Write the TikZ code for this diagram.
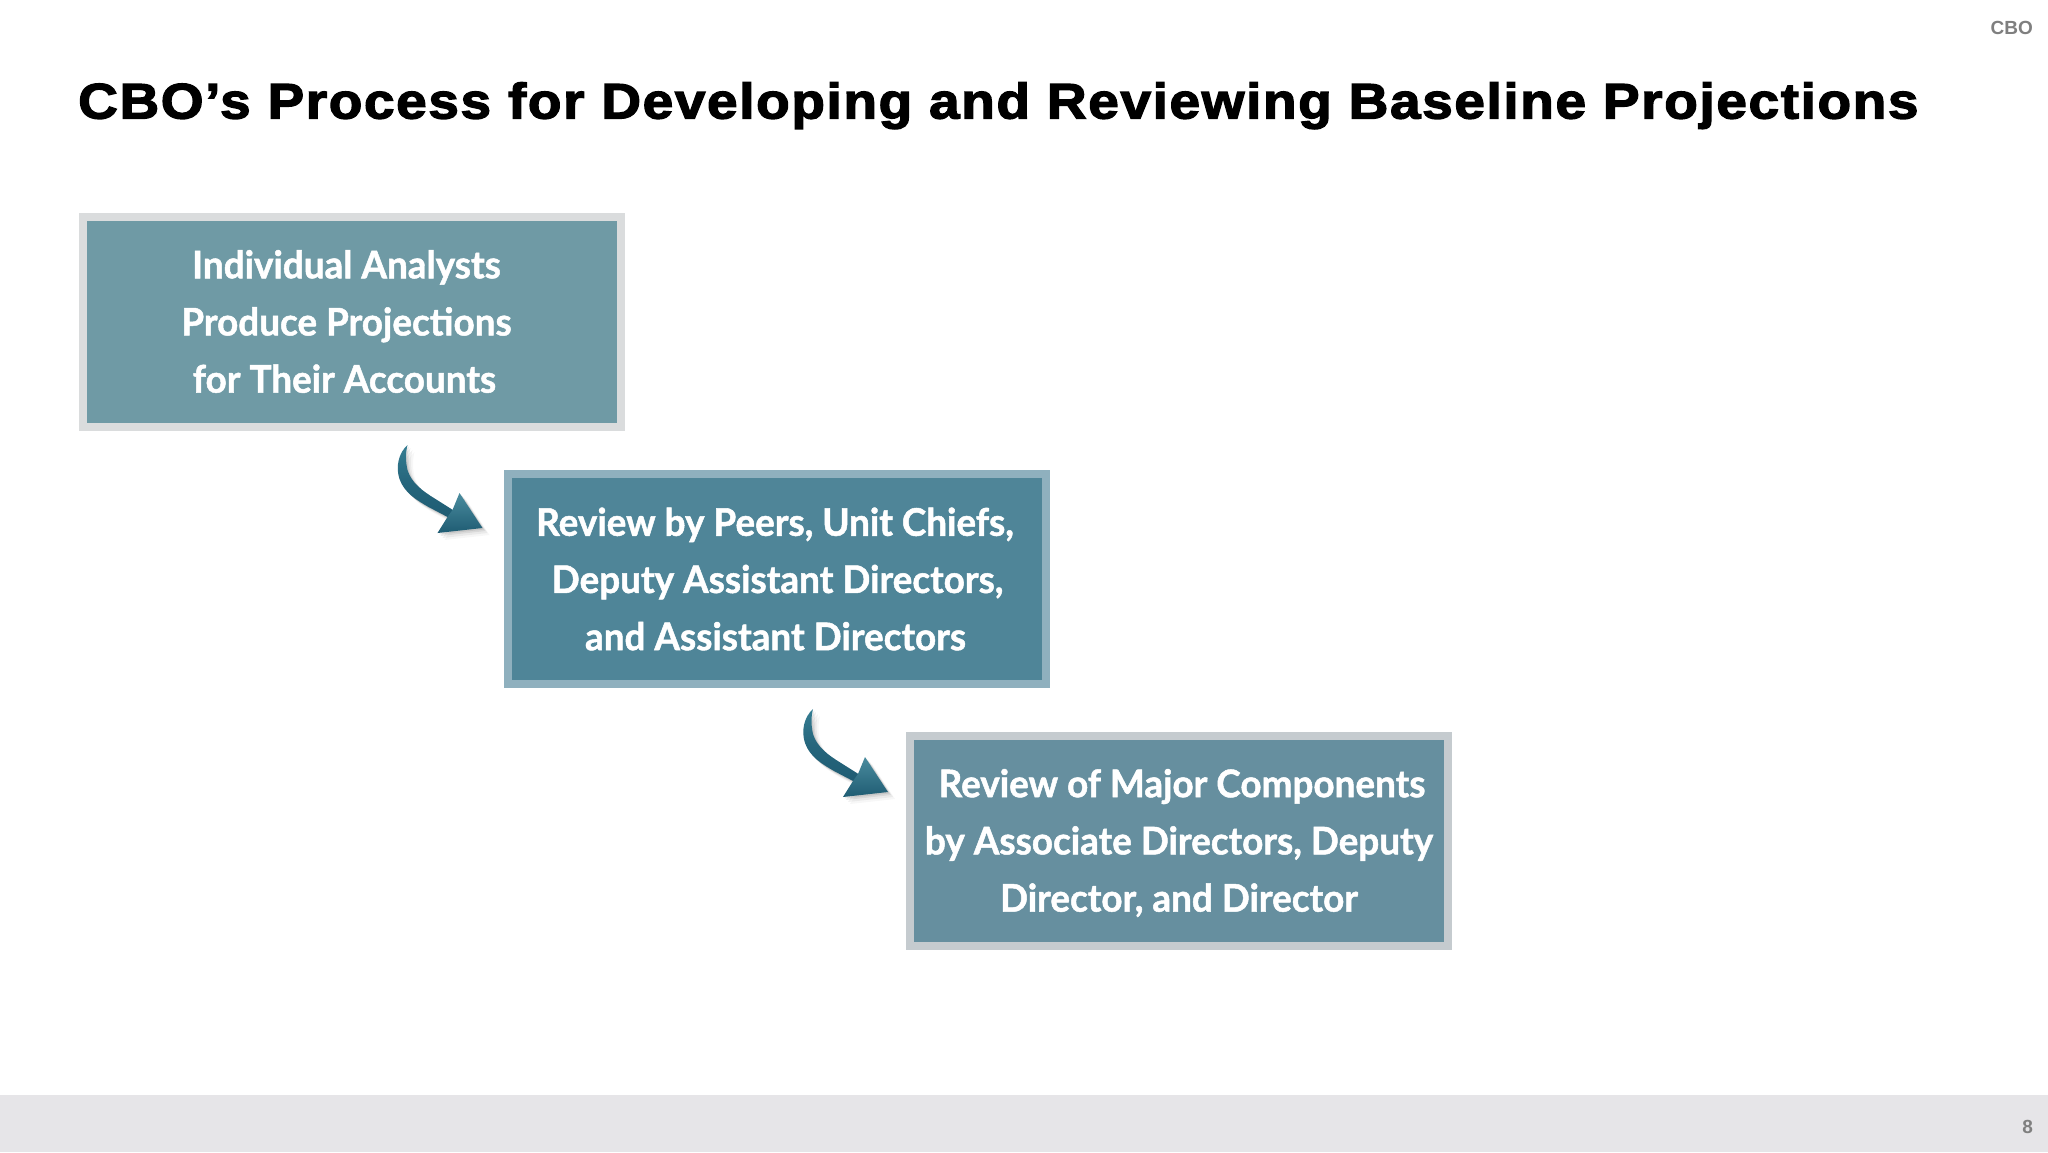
\documentclass[tikz,border=0pt]{standalone}
\usepackage{fontspec}
\usetikzlibrary{calc}
\setmainfont{Liberation Sans}
\newfontfamily\titlefont[FakeBold=2.6,FakeStretch=1.1,LetterSpace=3.2]{Liberation Sans Bold}
\newfontfamily\boxfont[FakeStretch=0.97,FakeBold=1.3]{Lato Bold}
\definecolor{fillA}{HTML}{6F9AA5}
\definecolor{lineA}{HTML}{DADCDD}
\definecolor{fillB}{HTML}{4F8598}
\definecolor{lineB}{HTML}{8FB0BE}
\definecolor{fillC}{HTML}{668F9F}
\definecolor{lineC}{HTML}{C5CBCF}
\definecolor{footbar}{HTML}{E6E5E8}
\definecolor{markgray}{HTML}{7F7F7F}
\definecolor{arrowdark}{HTML}{1F5C73}
\definecolor{arrowmid}{HTML}{357D92}
\definecolor{arrowlight}{HTML}{4A8C9E}
\tikzset{
  x=1pt,y=-1pt,
  stepbox/.style={rectangle,inner sep=0pt,outer sep=0pt,line width=8pt,
    minimum width=538pt,minimum height=210pt,text=white,align=center,
    font=\boxfont\fontsize{38}{57.2}\selectfont},
  boxtext/.style={inner sep=0pt,text=white,align=center,
    font=\boxfont\fontsize{38}{57.2}\selectfont},
  bendarrow/.pic={
    \foreach \dx/\dy/\op in {7/7/.03,5/5/.05,3/3/.07,1.5/1.5/.08}{
      \fill[black,opacity=\op,shift={(\dx,\dy)}]
        (0,0) .. controls (-9,8) and (-12,22) .. (-8,34)
        .. controls (-3,48) and (9,55) .. (21,62)
        -- (40,72) -- (30,88) -- (75,83) -- (52,48) -- (45,65)
        -- (28,54) .. controls (15,46) and (4,38) .. (0,25)
        .. controls (-2,16) and (-2,8) .. (0,0) -- cycle;
    }
    \shade[top color=arrowmid,bottom color=arrowdark,middle color=arrowdark!70!arrowmid]
      (0,0) .. controls (-9,8) and (-12,22) .. (-8,34)
      .. controls (-3,48) and (9,55) .. (21,62)
      -- (42,73) -- (47,66)
      -- (28,54) .. controls (15,46) and (4,38) .. (0,25)
      .. controls (-2,16) and (-2,8) .. (0,0) -- cycle;
    \shade[top color=arrowlight,bottom color=arrowdark]
      (40,72) -- (30,88) -- (75,83) -- (52,48) -- (45,65) -- cycle;
  }
}
\begin{document}
\begin{tikzpicture}
\useasboundingbox (0,0) rectangle (2048,1152);
\fill[white] (0,0) rectangle (2048,1152);
\fill[footbar] (0,1095) rectangle (2048,1152);
\node[anchor=base west,inner sep=0pt,font=\titlefont\fontsize{50}{60}\selectfont] (title) at (78,118.5) {CBO’s Process for Developing and Reviewing Baseline Projections};
\node[anchor=base east,inner sep=0pt,text=markgray,font=\bfseries\fontsize{19}{22}\selectfont] (mark) at (2033,34) {CBO};
\node[anchor=base east,inner sep=0pt,text=markgray,font=\bfseries\fontsize{19}{22}\selectfont] (page) at (2033,1133) {8};
\node[stepbox,fill=fillA,draw=lineA] (a) at (351.5,321.5) {};
\node[boxtext] (atext) at (a.center) {\hspace*{-10pt}Individual Analysts\\\hspace*{-10pt}Produce Projections\\\hspace*{-14pt}for Their Accounts};
\node[stepbox,fill=fillB,draw=lineB] (b) at (776.5,579) {};
\node[boxtext] (btext) at (b.center) {\hspace*{-3pt}Review by Peers, Unit Chiefs,\\\hspace*{2pt}Deputy Assistant Directors,\\\hspace*{-2pt}and Assistant Directors};
\node[stepbox,fill=fillC,draw=lineC] (c) at (1179,840.5) {};
\node[boxtext] (ctext) at ($(c.center)+(0,2.5)$) {\hspace*{6pt}Review of Major Components\\by Associate Directors, Deputy\\Director, and Director};
\coordinate (tailb) at ($(b.north west)+(-100,-29)$);
\coordinate (tailc) at ($(c.north west)+(-97,-26.5)$);
\pic at (tailb) {bendarrow};
\pic at (tailc) {bendarrow};
\end{tikzpicture}
\end{document}
